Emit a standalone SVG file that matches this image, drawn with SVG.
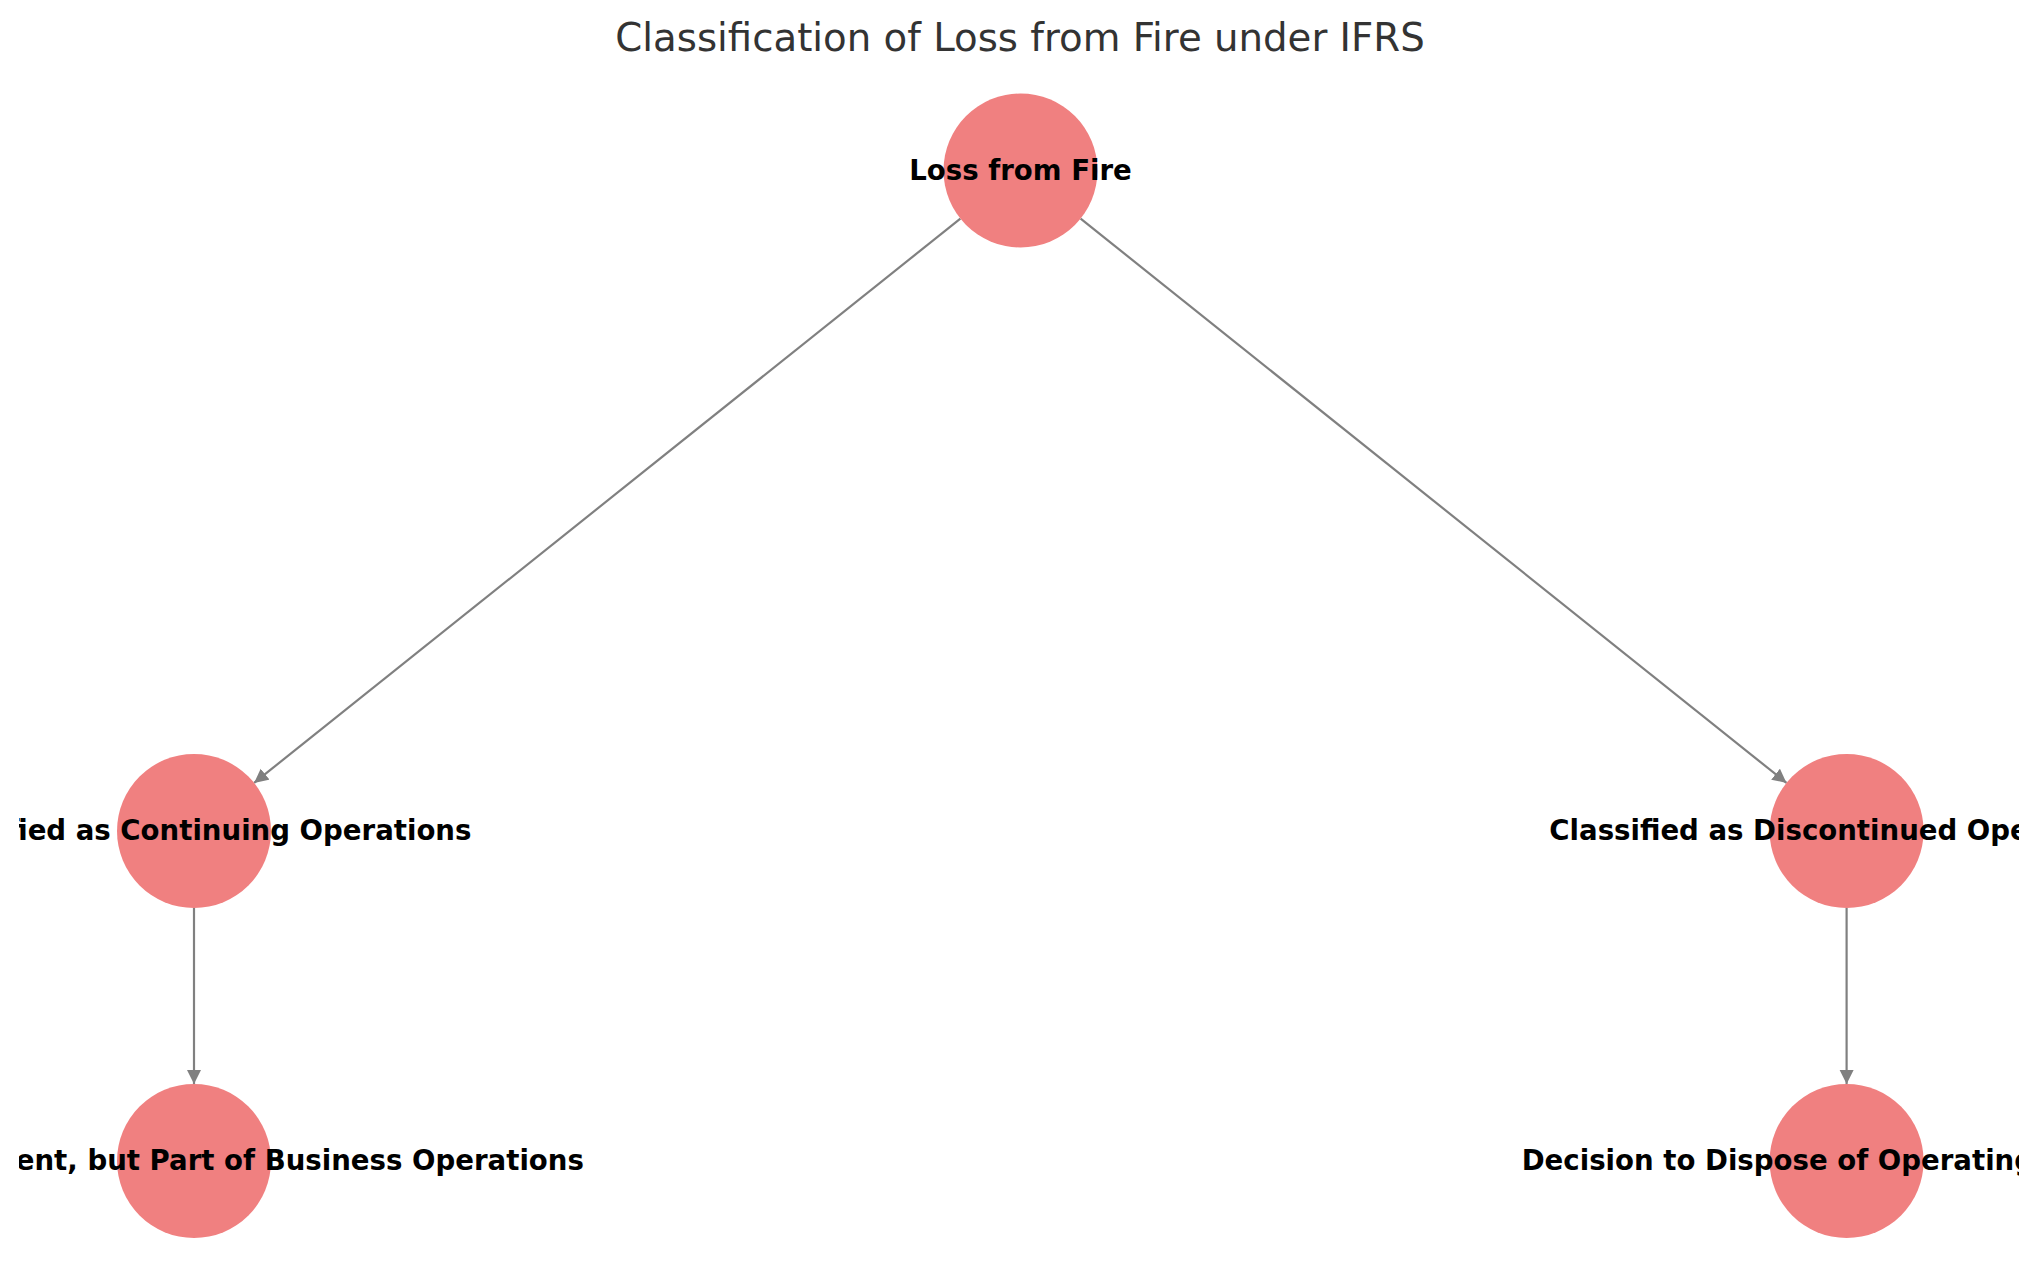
<svg xmlns="http://www.w3.org/2000/svg" width="2039" height="1286" viewBox="0 0 2039 1286">
<style>
.node{fill:#F08080;}
.lbl{font-family:"DejaVu Sans",sans-serif;font-weight:bold;font-size:27.6px;fill:#000;text-anchor:middle;}
.title{font-family:"DejaVu Sans",sans-serif;font-size:38.7px;fill:#333333;text-anchor:middle;}
.edge{stroke:#808080;stroke-width:2.2;fill:none;}
</style>
<defs>
<marker id="arr" markerUnits="userSpaceOnUse" markerWidth="16" markerHeight="16" refX="14" refY="7" orient="auto">
<path d="M0,0 L14,7 L0,14 Z" fill="#808080"/>
</marker>
<clipPath id="axes"><rect x="19" y="0" width="2000" height="1286"/></clipPath>
</defs>
<rect width="2039" height="1286" fill="#ffffff"/>
<text class="title" x="1020" y="51">Classification of Loss from Fire under IFRS</text>
<g id="connectors">
<line class="edge" x1="960.4" y1="218.6" x2="254.1" y2="782.9" marker-end="url(#arr)"/>
<line class="edge" x1="1080.6" y1="218.6" x2="1786.5" y2="782.9" marker-end="url(#arr)"/>
<line class="edge" x1="194" y1="908" x2="194" y2="1084" marker-end="url(#arr)"/>
<line class="edge" x1="1846.6" y1="908" x2="1846.6" y2="1084" marker-end="url(#arr)"/>
</g>
<g id="node-loss">
<circle class="node" cx="1020.5" cy="170.5" r="77"/>
<text class="lbl" x="1020.5" y="179.5">Loss from Fire</text>
</g>
<g id="node-continuing" clip-path="url(#axes)">
<circle class="node" cx="194" cy="831" r="77"/>
<text class="lbl" x="194" y="840">Classified as Continuing Operations</text>
</g>
<g id="node-discontinued" clip-path="url(#axes)">
<circle class="node" cx="1846.6" cy="831" r="77"/>
<text class="lbl" x="1844" y="840">Classified as Discontinued Operations</text>
</g>
<g id="node-nonrecurrent" clip-path="url(#axes)">
<circle class="node" cx="194" cy="1161" r="77"/>
<text class="lbl" x="194" y="1170">Infrequent Event, but Part of Business Operations</text>
</g>
<g id="node-dispose" clip-path="url(#axes)">
<circle class="node" cx="1846.6" cy="1161" r="77"/>
<text class="lbl" x="1852" y="1170">Decision to Dispose of Operating Segment</text>
</g>
</svg>
